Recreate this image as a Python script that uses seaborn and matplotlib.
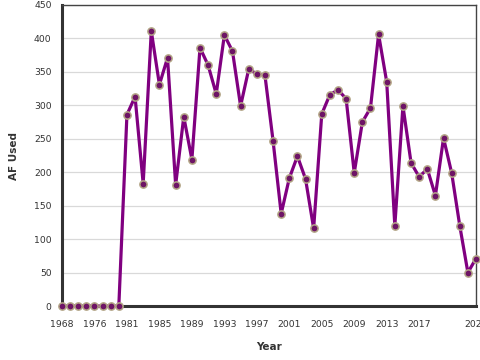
import numpy as np
import pandas as pd
import seaborn as sns
import matplotlib
matplotlib.use("Agg")
import matplotlib.pyplot as plt

# years (first eight are the early zero-use years), AF used per year
years = [1968, 1970, 1972, 1974, 1976, 1978, 1979, 1980] + list(range(1981, 2025))
af_used = [0, 0, 0, 0, 0, 0, 0, 0,
           286, 313, 183, 411, 331, 371, 181, 283, 219, 386,
           360, 317, 405, 381, 299, 354, 347, 345, 247, 138,
           191, 224, 190, 116, 287, 316, 323, 310, 199, 275,
           296, 406, 335, 120, 299, 214, 193, 205, 165, 251,
           199, 120, 50, 71]
tick_years = [1968, 1976, 1981, 1985, 1989, 1993, 1997, 2001, 2005, 2009, 2013, 2017, 2021, 2024]
hidden_labels = [2021]

df = pd.DataFrame({"year": years, "af": af_used})
df["pos"] = np.arange(len(df))  # point scale: one slot per year in the data

sns.set_style("white")
plt.rcParams["font.family"] = ["DejaVu Sans"]

fig = plt.figure(figsize=(4.8, 3.6), dpi=100)
ax = fig.add_axes([62 / 480, 54 / 360, 414 / 480, 301 / 360])

sns.lineplot(data=df, x="pos", y="af", ax=ax, color="#800080", linewidth=2.3,
             marker="o", markersize=5.2, markerfacecolor="#6e1466",
             markeredgecolor="#b3a586", markeredgewidth=1.1, zorder=3)
for ln in ax.lines:
    ln.set_clip_on(False)

ax.set_xlim(0, len(df) - 1)
ax.set_ylim(0, 450)
ax.set_yticks(range(0, 451, 50))
ax.yaxis.grid(True, color="#d9d9d9", linewidth=0.9)
ax.set_axisbelow(True)

pos_of = dict(zip(df["year"], df["pos"]))
tpos = [pos_of[y] for y in tick_years]
tlab = ["" if y in hidden_labels else str(y) for y in tick_years]
ax.set_xticks(tpos)
ax.set_xticklabels(tlab)

ax.tick_params(axis="both", colors="#333333", labelcolor="#333333", labelsize=6.7,
               length=5, width=0.9, direction="out", pad=2.5)
ax.tick_params(axis="x", length=6, pad=4)
# the 1976 label has no tick mark in the reference
ax.xaxis.get_major_ticks()[1].tick1line.set_visible(False)

for side in ["left", "bottom"]:
    ax.spines[side].set_linewidth(2.2)
    ax.spines[side].set_color("#333333")
for side in ["top", "right"]:
    ax.spines[side].set_linewidth(1)
    ax.spines[side].set_color("#444444")

ax.set_xlabel("Year", fontsize=7.5, fontweight="bold", color="#333333", labelpad=9.5)
ax.set_ylabel("AF Used", fontsize=7.5, fontweight="bold", color="#333333", labelpad=10.5)

fig.savefig("out.png", dpi=100)
